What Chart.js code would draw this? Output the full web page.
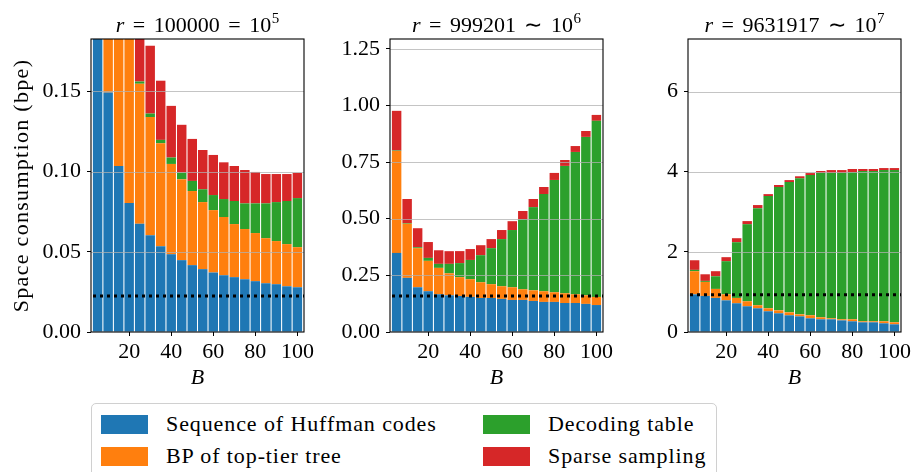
<!DOCTYPE html>
<html><head><meta charset="utf-8">
<script src="https://cdn.jsdelivr.net/npm/chart.js@4"></script>
<style>
html,body{margin:0;padding:0;background:#fff;width:912px;height:472px;overflow:hidden;position:relative;}
canvas{position:absolute;top:0;}
#legend{position:absolute;left:91px;top:403px;width:626px;height:80px;border:1px solid #d0d0d0;border-radius:5px;box-sizing:border-box;font-family:"Liberation Serif",serif;font-size:22px;color:#000;letter-spacing:0.9px;}
.item{position:absolute;display:flex;align-items:center;height:24px;white-space:nowrap;}
.sw{width:47px;height:19px;margin-right:18px;flex:none;}
</style></head><body>
<canvas id="c0" width="318" height="400" style="left:0px"></canvas>
<canvas id="c1" width="297" height="400" style="left:320px"></canvas>
<canvas id="c2" width="297" height="400" style="left:618px"></canvas>
<div id="legend"></div>
<script>
// ---------- data ----------
const B = [5,10,15,20,25,30,35,40,45,50,55,60,65,70,75,80,85,90,95,100];
const seriesNames = ['Sequence of Huffman codes','BP of top-tier tree','Decoding table','Sparse sampling'];
const seriesColors = ['#1f77b4','#ff7f0e','#2ca02c','#d62728'];

// r = 100000
const huff1 = [0.260,0.1494,0.1035,0.0804,0.0675,0.0604,0.0535,0.0485,0.0448,0.0417,0.0392,0.0371,0.0354,0.0342,0.0329,0.0317,0.0304,0.0298,0.0285,0.0279];
const bp1   = [0.300,0.180,0.130,0.110,0.0873,0.0736,0.0642,0.0563,0.0504,0.0462,0.0418,0.0389,0.0363,0.0331,0.0313,0.0300,0.0281,0.0269,0.0263,0.0250];
const dec1  = [0.0003,0.0005,0.0008,0.0010,0.0014,0.0022,0.0021,0.0040,0.0042,0.0063,0.0080,0.0094,0.0112,0.0144,0.0160,0.0185,0.0217,0.0243,0.0269,0.0306];
const samp1 = [0.150,0.090,0.070,0.055,0.048,0.0423,0.0369,0.0322,0.0298,0.0262,0.0245,0.0250,0.0229,0.0218,0.0208,0.0196,0.0183,0.0175,0.0168,0.0157];

// r = 999201
const huff2 = [0.349,0.239,0.1975,0.180,0.1666,0.162,0.159,0.155,0.150,0.150,0.146,0.1415,0.1415,0.137,0.1327,0.1327,0.128,0.128,0.124,0.119];
const bp2   = [0.450,0.239,0.1725,0.134,0.1164,0.097,0.083,0.078,0.0696,0.061,0.056,0.056,0.0472,0.047,0.0473,0.0427,0.043,0.0386,0.038,0.036];
const dec2  = [0.002,0.003,0.004,0.013,0.0177,0.0417,0.062,0.085,0.1194,0.159,0.208,0.2525,0.3093,0.367,0.429,0.4956,0.562,0.628,0.699,0.777];
const samp2 = [0.175,0.106,0.084,0.070,0.060,0.056,0.053,0.048,0.044,0.040,0.040,0.039,0.036,0.036,0.031,0.031,0.026,0.026,0.026,0.026];

// r = 9631917
const huff3 = [0.94,0.90,0.85,0.79,0.717,0.642,0.592,0.517,0.467,0.417,0.39,0.342,0.317,0.317,0.29,0.267,0.242,0.242,0.217,0.192];
const bp3   = [0.577,0.35,0.225,0.15,0.133,0.125,0.075,0.075,0.073,0.073,0.05,0.075,0.05,0.025,0.027,0.05,0.025,0.025,0.05,0.05];
const dec3  = [0.033,0.025,0.315,0.827,1.39,1.923,2.423,2.798,3.077,3.252,3.395,3.498,3.60,3.625,3.65,3.673,3.75,3.75,3.773,3.798];
const samp3 = [0.24,0.165,0.127,0.10,0.10,0.077,0.077,0.05,0.05,0.048,0.05,0.05,0.05,0.073,0.073,0.077,0.05,0.05,0.05,0.05];

// dotted reference level per panel
const bounds = [0.0225, 0.159, 0.93];
const yMax = [0.1827, 1.293, 7.31];
const yTicks = [[0,0.05,0.10,0.15],[0,0.25,0.5,0.75,1.0,1.25],[0,2,4,6]];
const yTickLabels = [['0.00','0.05','0.10','0.15'],['0.00','0.25','0.50','0.75','1.00','1.25'],['0','2','4','6']];
const xTicks = [20,40,60,80,100];
const xMin = 1.85, xMax = 103.15;
const titleNums = ['100000','999201','9631917'];
const titleRels = ['=','\u223C','\u223C'];
const titleExps = ['5','6','7'];
const yAxisTitle = 'Space consumption (bpe)';
const xAxisTitle = 'B';

const panels = [[huff1,bp1,dec1,samp1],[huff2,bp2,dec2,samp2],[huff3,bp3,dec3,samp3]];
const yAxisWidths = [91,70,70];

const FONT = '"Liberation Serif", "Times New Roman", serif';

const overlay = {
  id: 'overlay',
  afterDatasetsDraw(chart) {
    const i = chart.options.plugins.overlay.panel;
    const {ctx, chartArea: a, scales} = chart;
    const y = scales.y;
    ctx.save();
    ctx.strokeStyle = 'rgba(176,176,176,0.75)';
    ctx.lineWidth = 1.1;
    yTicks[i].forEach(v => {
      if (v === 0) return;
      const py = Math.round(y.getPixelForValue(v)) + 0.5;
      ctx.beginPath(); ctx.moveTo(a.left, py); ctx.lineTo(a.right, py); ctx.stroke();
    });
    const by = y.getPixelForValue(bounds[i]);
    ctx.strokeStyle = '#000';
    ctx.lineWidth = 3;
    ctx.setLineDash([3, 4]);
    ctx.beginPath(); ctx.moveTo(a.left + 2, by); ctx.lineTo(a.right, by); ctx.stroke();
    ctx.setLineDash([]);
    ctx.lineWidth = 1.1;
    ctx.strokeStyle = '#000';
    ctx.strokeRect(a.left, a.top, a.right - a.left, a.bottom - a.top);
    ctx.restore();
  },
  afterDraw(chart) {
    const i = chart.options.plugins.overlay.panel;
    const {ctx, chartArea: a} = chart;
    ctx.save();
    ctx.fillStyle = '#000';
    ctx.textBaseline = 'alphabetic';
    const fIt = 'italic 22px ' + FONT, fN = '22px ' + FONT, fS = '15px ' + FONT;
    const gap = 8.5;
    const parts = [
      {t:'r', f:fIt, g:gap, dy:0},
      {t:'=', f:fN, g:gap, dy:0},
      {t:titleNums[i], f:fN, g:gap, dy:0},
      {t:titleRels[i], f:fN, g:gap, dy:0},
      {t:'10', f:fN, g:0.5, dy:0},
      {t:titleExps[i], f:fS, g:0, dy:-9}
    ];
    let total = 0;
    parts.forEach(p => { ctx.font = p.f; p.w = ctx.measureText(p.t).width; total += p.w + p.g; });
    let x = (a.left + a.right) / 2 - total / 2;
    const base = 31.5;
    parts.forEach(p => { ctx.font = p.f; ctx.fillText(p.t, x, base + p.dy); x += p.w + p.g; });
    // y-axis title (first panel only)
    if (i === 0) {
      ctx.translate(22, (a.top + a.bottom) / 2);
      ctx.rotate(-Math.PI / 2);
      ctx.font = fN;
      ctx.textAlign = 'center';
      ctx.textBaseline = 'middle';
      try { ctx.letterSpacing = '1.3px'; } catch (e) {}
      ctx.fillText(yAxisTitle, 0, 0);
    }
    ctx.restore();
  }
};

function makeChart(i) {
  const data = panels[i];
  const datasets = data.map((arr, k) => ({
    label: seriesNames[k],
    data: arr.map((v, j) => ({x: B[j], y: v})),
    backgroundColor: seriesColors[k],
    borderWidth: 0,
    barPercentage: 0.9,
    categoryPercentage: 1.0,
    clip: 0
  }));
  const yW = yAxisWidths[i];
  return new Chart(document.getElementById('c' + i), {
    type: 'bar',
    data: {datasets},
    plugins: [overlay],
    options: {
      responsive: false,
      animation: false,
      events: [],
      layout: {padding: {top: 39, right: 14, left: 0, bottom: 0}},
      plugins: {legend: {display: false}, title: {display: false}, tooltip: {enabled: false}, overlay: {panel: i}},
      scales: {
        x: {
          type: 'linear', stacked: true, min: xMin, max: xMax, offset: false,
          afterBuildTicks: s => { s.ticks = xTicks.map(v => ({value: v})); },
          afterFit: s => { s.height = 68; },
          grid: {drawOnChartArea: false, drawTicks: true, tickLength: 4, color: '#000', lineWidth: 1, offset: false},
          border: {display: false},
          ticks: {color: '#000', font: {family: FONT, size: 22}, padding: 3, maxRotation: 0, autoSkip: false,
                  callback: v => String(v)},
          title: {display: true, text: xAxisTitle, color: '#000', font: {family: FONT, size: 22, style: 'italic'}, padding: {top: 0, bottom: 9}}
        },
        y: {
          type: 'linear', stacked: true, min: 0, max: yMax[i],
          afterBuildTicks: s => { s.ticks = yTicks[i].map(v => ({value: v})); },
          afterFit: s => { s.width = yW; },
          grid: {drawOnChartArea: false, drawTicks: true, tickLength: 4, color: '#000', lineWidth: 1},
          border: {display: false},
          ticks: {color: '#000', font: {family: FONT, size: 22}, padding: 6, autoSkip: false,
                  callback: (v, idx) => yTickLabels[i][idx]},
          title: {display: false}
        }
      }
    }
  });
}
[0,1,2].forEach(makeChart);

const legend = document.getElementById('legend');
const pos = [[9,8],[9,40],[391,8],[391,40]];
seriesNames.forEach((name, k) => {
  const it = document.createElement('div');
  it.className = 'item';
  it.style.left = pos[k][0] + 'px';
  it.style.top = pos[k][1] + 'px';
  const sw = document.createElement('div');
  sw.className = 'sw';
  sw.style.background = seriesColors[k];
  const tx = document.createElement('span');
  tx.textContent = name;
  it.appendChild(sw); it.appendChild(tx);
  legend.appendChild(it);
});
</script>
</body></html>
